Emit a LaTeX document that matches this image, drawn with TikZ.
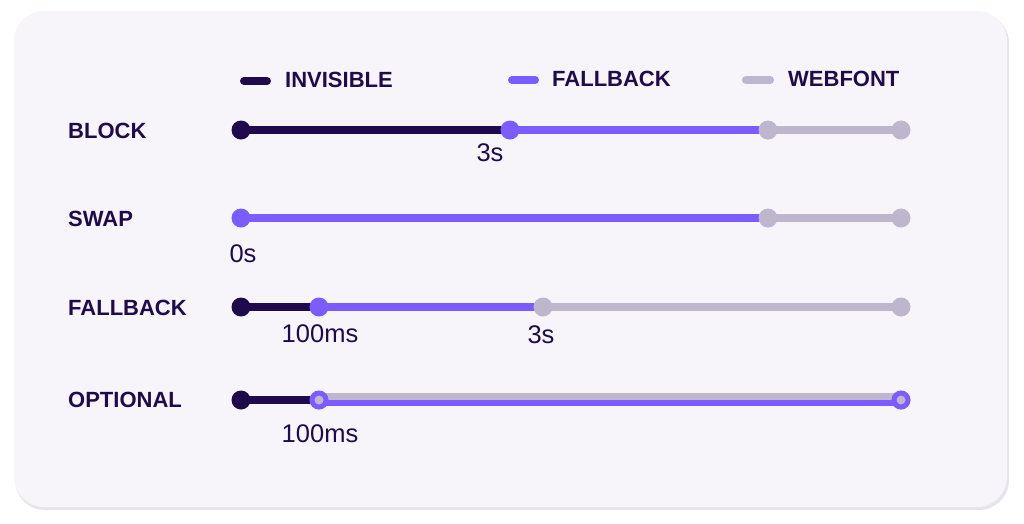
\documentclass[tikz,border=0pt]{standalone}
\usepackage{fontspec}
\setmainfont{Liberation Sans}
\definecolor{navy}{HTML}{1F0A4C}
\definecolor{violet}{HTML}{7B5CFF}
\definecolor{greyl}{HTML}{BDB6CC}
\definecolor{card}{HTML}{F7F5FA}
\definecolor{shadow}{HTML}{E7E3ED}
\pgfdeclarelayer{bg}
\pgfdeclarelayer{lines}
\pgfsetlayers{bg,lines,main}
\begin{document}
\begin{tikzpicture}[x=1pt,y=-1pt,
  dot/.style={circle,inner sep=0pt,minimum size=19pt,draw=none},
  ring/.style={circle,inner sep=0pt,minimum size=14pt,draw=violet,line width=5pt,fill=greyl},
  seg/.style={line width=8pt},
  leg/.style={line width=8pt,line cap=round},
  rowlabel/.style={anchor=base west,text=navy,font=\fontsize{22}{24}\selectfont\bfseries,inner sep=0pt},
  num/.style={anchor=base,text=navy,font=\fontsize{25.5}{28}\selectfont,inner sep=0pt}]
\useasboundingbox (0,0) rectangle (1024,523);
\begin{pgfonlayer}{bg}
\fill[white] (0,0) rectangle (1024,523);
\fill[shadow,rounded corners=30pt] (15,13) rectangle (1009,510);
\fill[card,rounded corners=30pt] (14,11) rectangle (1007,507);
\end{pgfonlayer}

% legend
\coordinate (l1a) at (244,81); \coordinate (l1b) at (267,81);
\coordinate (l2a) at (512,80); \coordinate (l2b) at (535,80);
\coordinate (l3a) at (746,80); \coordinate (l3b) at (770,80);
\draw[leg,navy] (l1a) -- (l1b);
\draw[leg,violet] (l2a) -- (l2b);
\draw[leg,greyl] (l3a) -- (l3b);
\node[rowlabel] (leg1) at (285,87) {INVISIBLE};
\node[rowlabel] (leg2) at (552,86) {FALLBACK};
\node[rowlabel] (leg3) at (788,86) {WEBFONT};

% row labels
\node[rowlabel] (rblock) at (68,138) {BLOCK};
\node[rowlabel] (rswap) at (68,226) {SWAP};
\node[rowlabel] (rfall) at (68,315) {FALLBACK};
\node[rowlabel] (ropt) at (68,407) {OPTIONAL};

% BLOCK
\node[dot,fill=navy] (b0) at (241,130) {};
\node[dot,fill=violet] (b1) at (510,130) {};
\node[dot,fill=greyl] (b2) at (768,130) {};
\node[dot,fill=greyl] (b3) at (901,130) {};
\begin{pgfonlayer}{lines}
\draw[seg,navy] (b0.center) -- (b1.center);
\draw[seg,violet] (b1.center) -- (b2.center);
\draw[seg,greyl] (b2.center) -- (b3.center);
\end{pgfonlayer}
\node[num] (t1) at (490,161) {3s};

% SWAP
\node[dot,fill=violet] (s0) at (241,218) {};
\node[dot,fill=greyl] (s1) at (768,218) {};
\node[dot,fill=greyl] (s2) at (901,218) {};
\begin{pgfonlayer}{lines}
\draw[seg,violet] (s0.center) -- (s1.center);
\draw[seg,greyl] (s1.center) -- (s2.center);
\end{pgfonlayer}
\node[num] (t2) at (243,262) {0s};

% FALLBACK
\node[dot,fill=navy] (f0) at (241,307) {};
\node[dot,fill=violet] (f1) at (319,307) {};
\node[dot,fill=greyl] (f2) at (543,307) {};
\node[dot,fill=greyl] (f3) at (901,307) {};
\begin{pgfonlayer}{lines}
\draw[seg,navy] (f0.center) -- (f1.center);
\draw[seg,violet] (f1.center) -- (f2.center);
\draw[seg,greyl] (f2.center) -- (f3.center);
\end{pgfonlayer}
\node[num] (t3) at (320,342) {100ms};
\node[num] (t4) at (541,343) {3s};

% OPTIONAL
\node[dot,fill=navy] (o0) at (241,400) {};
\node[ring] (o1) at (319,400) {};
\node[ring] (o2) at (901,400) {};
\begin{pgfonlayer}{lines}
\draw[seg,navy] (o0.center) -- (o1.center);
\draw[line width=7pt,greyl] ([yshift=3.5pt]o1.center) -- ([yshift=3.5pt]o2.center);
\draw[line width=6.5pt,violet] ([yshift=-3.2pt]o1.center) -- ([yshift=-3.2pt]o2.center);
\end{pgfonlayer}
\node[num] (t5) at (320,442) {100ms};
\end{tikzpicture}
\end{document}
